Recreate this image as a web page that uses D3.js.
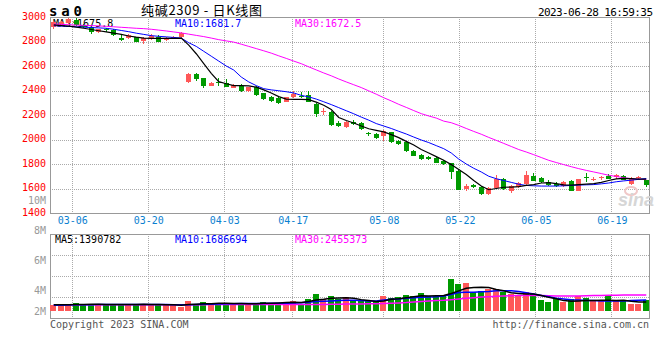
<!DOCTYPE html>
<html><head><meta charset="utf-8">
<script src="https://cdn.jsdelivr.net/npm/d3@7"></script>
<style>body{margin:0;background:#fff}svg{display:block}</style>
</head><body><svg id="c" width="660" height="360"></svg>
<script>
const dates = ["03-01","03-02","03-03","03-06","03-07","03-08","03-09","03-10","03-13","03-14","03-15","03-16","03-17","03-20","03-21","03-22","03-23","03-24","03-27","03-28","03-29","03-30","03-31",
"04-03","04-04","04-06","04-07","04-10","04-11","04-12","04-13","04-14","04-17","04-18","04-19","04-20","04-21","04-24","04-25","04-26","04-27","04-28",
"05-04","05-05","05-08","05-09","05-10","05-11","05-12","05-15","05-16","05-17","05-18","05-19","05-22","05-23","05-24","05-25","05-26","05-29","05-30","05-31",
"06-01","06-02","06-05","06-06","06-07","06-08","06-09","06-12","06-13","06-14","06-15","06-16","06-19","06-20","06-21","06-26","06-27","06-28"];
const open  = [2921,2945,2949,2976,2935,2916,2880,2902,2894,2831,2826,2834,2807,2820,2839,2812,2822,2835,2472,2535,2500,2439,2466,2463,2423,2437,2396,2431,2377,2349,2341,2308,2344,2357,2361,2290,2225,2227,2132,2100,2145,2132,2049,2045,2031,2058,1988,1980,1906,1873,1860,1852,1827,1806,1746,1596,1629,1615,1555,1602,1675,1582,1610,1637,1704,1683,1655,1634,1620,1664,1582,1693,1671,1683,1702,1691,1702,1637,1688,1666];
const close = [2962,2958,2981,2935,2916,2880,2900,2898,2853,2812,2853,2798,2831,2845,2798,2831,2840,2872,2532,2491,2437,2463,2463,2431,2445,2398,2426,2363,2328,2317,2296,2344,2371,2353,2308,2208,2232,2118,2110,2145,2127,2086,2045,2015,2069,1977,1963,1909,1868,1840,1842,1811,1800,1737,1588,1620,1612,1555,1602,1678,1594,1620,1647,1710,1664,1651,1629,1618,1655,1582,1675,1689,1675,1696,1678,1710,1669,1675,1692,1629];
const high  = [2970,2965,2988,2990,2945,2922,2906,2910,2898,2850,2860,2840,2835,2858,2855,2836,2845,2880,2545,2540,2503,2468,2498,2490,2450,2455,2432,2436,2382,2352,2345,2350,2395,2390,2400,2295,2258,2232,2155,2150,2160,2140,2065,2052,2075,2062,1993,1985,1912,1880,1866,1858,1832,1810,1750,1640,1640,1620,1610,1710,1682,1625,1652,1745,1730,1690,1668,1650,1660,1670,1680,1727,1690,1702,1720,1715,1712,1690,1702,1668];
const low   = [2905,2935,2945,2930,2910,2859,2872,2880,2848,2808,2820,2795,2777,2815,2795,2806,2818,2830,2465,2475,2423,2436,2440,2425,2418,2385,2390,2358,2322,2303,2290,2303,2340,2335,2303,2180,2200,2110,2100,2095,2120,2080,2030,2005,1990,1972,1955,1900,1862,1830,1835,1805,1792,1678,1585,1580,1605,1550,1545,1598,1590,1560,1605,1632,1658,1646,1624,1610,1614,1578,1578,1656,1660,1672,1676,1678,1668,1632,1670,1610];
const ma5   = [2935,2930,2925,2918,2908,2898,2888,2878,2868,2858,2845,2835,2828,2826,2826,2826,2826,2828,2770,2700,2620,2540,2472,2455,2440,2440,2438,2428,2405,2380,2350,2330,2328,2328,2325,2305,2280,2245,2180,2155,2135,2110,2088,2075,2062,2040,2015,1985,1955,1918,1890,1860,1830,1795,1755,1715,1665,1620,1590,1600,1610,1612,1615,1625,1632,1645,1648,1640,1630,1628,1632,1636,1640,1650,1665,1678,1682,1680,1676,1675.8];
const ma10  = [2929,2926,2923,2920,2917,2914,2911,2908,2900,2890,2880,2868,2858,2848,2842,2838,2833,2828,2790,2760,2720,2680,2640,2600,2567,2510,2470,2440,2415,2405,2398,2390,2380,2360,2348,2330,2308,2285,2260,2235,2210,2183,2158,2130,2110,2090,2067,2045,2020,1996,1975,1950,1925,1890,1840,1800,1765,1735,1700,1680,1665,1650,1635,1625,1622,1620,1620,1620,1622,1625,1628,1630,1632,1638,1645,1655,1662,1668,1675,1681.7];
const ma30  = [2942,2940,2937,2934,2932,2930,2927,2924,2920,2916,2912,2908,2905,2900,2893,2886,2878,2870,2860,2850,2840,2828,2815,2805,2795,2778,2760,2742,2724,2705,2683,2662,2640,2619,2593,2568,2543,2520,2494,2470,2447,2424,2397,2370,2341,2315,2287,2262,2236,2211,2192,2175,2150,2137,2115,2090,2066,2043,2017,1993,1968,1943,1918,1898,1876,1853,1830,1812,1795,1778,1762,1748,1735,1722,1708,1698,1688,1680,1676,1672.5];
const volume = [923000,923000,923000,1277000,923000,1077000,923000,923000,1077000,1077000,923000,1077000,1077000,923000,923000,923000,923000,660000,1540000,1077000,1385000,923000,1230000,1230000,923000,1230000,923000,1230000,1385000,1230000,1230000,1385000,1540000,1077000,1846000,2615000,1846000,2308000,1846000,2154000,1692000,1692000,1538000,1538000,2308000,2000000,2154000,2462000,2308000,2769000,2308000,2308000,2462000,4923000,4154000,4308000,2923000,3077000,3385000,3385000,2923000,2615000,2308000,2923000,2615000,1692000,1385000,1846000,1385000,1846000,2308000,2000000,1692000,1692000,2308000,1692000,1692000,1077000,1077000,1692000];
const volMa5  = [950000,950000,950000,1000000,1000000,1050000,1050000,1000000,1000000,1000000,1000000,1000000,1050000,1000000,1000000,950000,950000,900000,1000000,1050000,1100000,1100000,1200000,1200000,1150000,1150000,1100000,1100000,1200000,1200000,1250000,1300000,1350000,1300000,1450000,1700000,1800000,1950000,2000000,2050000,1950000,1750000,1600000,1450000,1550000,1800000,1900000,2050000,2200000,2350000,2300000,2350000,2400000,2700000,3100000,3500000,3600000,3650000,3600000,3300000,3100000,2800000,2700000,2600000,2600000,2400000,2100000,1900000,1600000,1500000,1550000,1600000,1600000,1650000,1650000,1600000,1650000,1500000,1400000,1390782];
const volMa10 = [900000,900000,920000,950000,970000,980000,1000000,1000000,1000000,1000000,1000000,1000000,1000000,1000000,1000000,1000000,980000,950000,980000,1000000,1020000,1050000,1080000,1100000,1120000,1150000,1150000,1150000,1150000,1180000,1200000,1200000,1250000,1280000,1350000,1450000,1500000,1550000,1600000,1650000,1650000,1600000,1550000,1550000,1700000,1800000,1850000,1950000,2050000,2100000,2150000,2200000,2300000,2550000,2850000,2900000,2900000,2950000,3000000,3100000,3100000,3100000,3000000,2800000,2600000,2400000,2200000,1950000,1850000,1750000,1700000,1620000,1600000,1550000,1550000,1550000,1550000,1600000,1650000,1686694];
const volMa30 = [950000,950000,950000,950000,950000,950000,950000,950000,950000,950000,950000,950000,950000,950000,950000,950000,950000,950000,950000,950000,950000,1000000,1000000,1000000,1000000,1000000,1000000,1000000,1000000,1000000,1000000,1000000,1000000,1000000,1000000,1000000,1000000,1030000,1050000,1070000,1080000,1090000,1100000,1100000,1150000,1200000,1250000,1300000,1380000,1450000,1540000,1600000,1660000,1750000,1850000,1950000,2050000,2150000,2200000,2260000,2300000,2360000,2380000,2400000,2400000,2380000,2350000,2320000,2300000,2300000,2320000,2350000,2380000,2400000,2420000,2440000,2450000,2450000,2455373,2455373];
const priceTicks = [3000,2800,2600,2400,2200,2000,1800,1600,1400];
const dateTicks = ["03-06","03-20","04-03","04-17","05-08","05-22","06-05","06-19"];
const volTicks = [10e6,8e6,6e6,4e6,2e6];
const volTickLabels = ["10M","8M","6M","4M","2M"];
const symbol = "sa0";
const title = "纯碱2309 - 日K线图";
const stamp = "2023-06-28 16:59:35";

const UP = "#ff5858", DOWN = "#009a00";
const MONO = "'DejaVu Sans Mono', monospace";
const svg = d3.select("#c");
svg.append("rect").attr("width",660).attr("height",360).attr("fill","#fff");

const x = d3.scaleBand().domain(dates).range([50,650]);
const bw = x.bandwidth();
const cx = d => x(d) + bw/2;
const gx = d3.scaleLinear().domain([0, dates.length]).range([49.5, 657.5]);
const y = d3.scaleLinear().domain([1400,3000]).range([213,17]);
const vy = d3.scaleLinear().domain([0, 11.85e6]).range([311,234]);
const vlab = d3.scaleLinear().domain([2e6,10e6]).range([320.7,200.7]);
const snap = v => Math.round(v) + 0.5;

// header
svg.append("text").attr("x",49).attr("y",15.5).attr("font-family",MONO).attr("font-weight","bold")
  .attr("font-size",14).attr("letter-spacing",3.8).attr("fill","#000").text(symbol);
svg.append("text").attr("x",141).attr("y",15).attr("font-family","'Noto Sans CJK SC'").attr("font-size",13)
  .attr("textLength",121).attr("fill","#000").style("white-space","pre").text(title);
svg.append("text").attr("x",653).attr("y",15.5).attr("text-anchor","end").attr("font-family",MONO)
  .attr("font-size",11).attr("textLength",115).attr("fill","#000").text(stamp);

// grids
const grid = svg.append("g").attr("stroke","#aaa").attr("stroke-dasharray","1,1").attr("shape-rendering","crispEdges");
priceTicks.filter(p => p<3000 && p>1400).forEach(p => {
  grid.append("line").attr("x1",50).attr("x2",649).attr("y1",snap(y(p))).attr("y2",snap(y(p)));
});
[255,276,297].forEach(v => grid.append("line").attr("x1",50).attr("x2",649).attr("y1",v+0.5).attr("y2",v+0.5));
dateTicks.forEach(t => {
  const gxv = snap(gx(dates.indexOf(t)) - 0.5);
  grid.append("line").attr("x1",gxv).attr("x2",gxv).attr("y1",17).attr("y2",213);
  grid.append("line").attr("x1",gxv).attr("x2",gxv).attr("y1",234).attr("y2",318);
});

// axes
const ya = svg.append("g").attr("transform","translate(50,-1)")
  .call(d3.axisLeft(y).tickValues(priceTicks).tickFormat(d3.format("d")).tickSize(0).tickPadding(4));
ya.select(".domain").remove();
ya.selectAll("text").attr("font-family",MONO).attr("font-size",10).attr("fill","#f00");

const xa = svg.append("g").attr("transform","translate(0,213)")
  .call(d3.axisBottom(gx).tickValues(dateTicks.map(t => dates.indexOf(t))).tickFormat(i => dates[i]).tickSize(0).tickPadding(4));
xa.select(".domain").remove();
xa.selectAll("text").attr("font-family",MONO).attr("font-size",10).attr("fill","#0a7fd0");

svg.append("g").selectAll("text").data(volTicks).join("text")
  .attr("x",46).attr("y",v => Math.min(vlab(v),311)).attr("dy","0.35em").attr("text-anchor","end")
  .attr("font-family",MONO).attr("font-size",10).attr("fill","#999")
  .text((v,i) => volTickLabels[i]);

// borders
const bd = svg.append("g").attr("fill","none").attr("stroke","#999").attr("shape-rendering","crispEdges");
bd.append("rect").attr("x",50.5).attr("y",17.5).attr("width",599).attr("height",196);
bd.append("rect").attr("x",50.5).attr("y",234.5).attr("width",599).attr("height",84);

// sina watermark
svg.append("ellipse").attr("cx",631).attr("cy",191).attr("rx",6).attr("ry",4).attr("fill","none").attr("stroke","#f0c8c8").attr("stroke-width",2);
svg.append("text").attr("x",618).attr("y",206).attr("font-family","'Liberation Sans'").attr("font-style","italic")
  .attr("font-weight","bold").attr("font-size",18).attr("fill","#d6d6d6").text("sina");

// MA labels
const lab = (txt, xx, yy, col) => svg.append("text").attr("x",xx).attr("y",yy).attr("dy","0.35em")
  .attr("font-family",MONO).attr("font-size",10).attr("fill",col).text(txt);
lab("MA5:" + ma5[ma5.length-1].toFixed(1), 53, 23, "#000");
lab("MA10:" + ma10[ma10.length-1].toFixed(1), 175, 23, "#0000ff");
lab("MA30:" + ma30[ma30.length-1].toFixed(1), 295, 23, "#ff00ff");
lab("MA5:" + volMa5[volMa5.length-1], 55, 239, "#000");
lab("MA10:" + volMa10[volMa10.length-1], 175, 239, "#0000ff");
lab("MA30:" + volMa30[volMa30.length-1], 295, 239, "#ff00ff");

// candles
const cg = svg.append("g").attr("shape-rendering","crispEdges");
dates.forEach((d,i) => {
  const col = close[i] >= open[i] ? UP : DOWN;
  const xc = Math.floor(cx(d)) + 0.5;
  cg.append("line").attr("x1",xc).attr("x2",xc).attr("y1",y(high[i])).attr("y2",y(low[i])).attr("stroke",col);
  const t = Math.round(y(Math.max(open[i],close[i]))), b = Math.round(y(Math.min(open[i],close[i])));
  cg.append("rect").attr("x",Math.floor(cx(d))-2).attr("y",t).attr("width",5).attr("height",Math.max(1,b-t)).attr("fill",col);
});

// volume bars
const vg = svg.append("g").attr("shape-rendering","crispEdges");
dates.forEach((d,i) => {
  const col = close[i] >= open[i] ? UP : DOWN;
  const t = Math.round(vy(volume[i]));
  vg.append("rect").attr("x",Math.floor(cx(d))-3).attr("y",t).attr("width",6).attr("height",311-t).attr("fill",col);
});

// MA lines
const drawLine = (arr, sc, col, w) => svg.append("path").datum(arr)
  .attr("fill","none").attr("stroke",col).attr("stroke-width",w)
  .attr("d", d3.line().x((v,i) => cx(dates[i])).y(v => sc(v)));
drawLine(ma30, y, "#ff00ff", 1);
drawLine(ma10, y, "#0000ff", 1);
drawLine(ma5, y, "#000", 1.2);
drawLine(volMa30, vy, "#ff00ff", 1.5);
drawLine(volMa10, vy, "#0000ff", 1.5);
drawLine(volMa5, vy, "#000", 1.5);

// footer
svg.append("text").attr("x",50).attr("y",324).attr("dy","0.35em").attr("font-family",MONO).attr("font-size",10)
  .attr("fill","#555").text("Copyright 2023 SINA.COM");
svg.append("text").attr("x",649).attr("y",324).attr("dy","0.35em").attr("text-anchor","end").attr("font-family",MONO)
  .attr("font-size",10).attr("fill","#555").text("http://finance.sina.com.cn");
</script></body></html>
